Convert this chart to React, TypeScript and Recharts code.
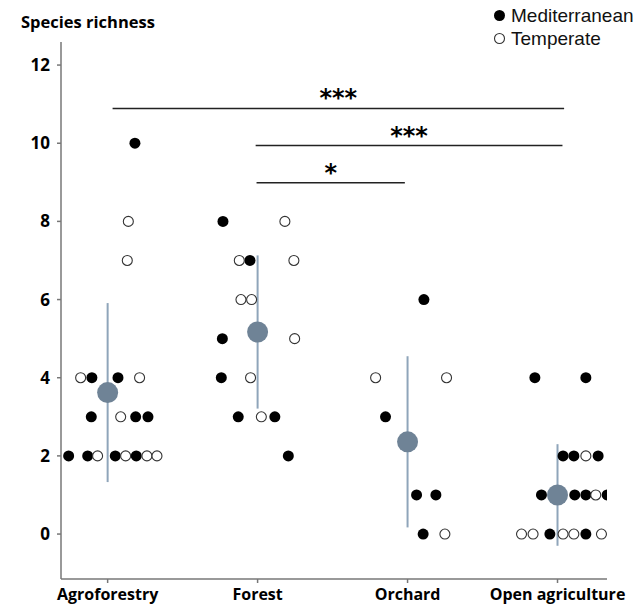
import React from "react";
import {
  ComposedChart,
  Scatter,
  XAxis,
  YAxis,
  ErrorBar,
  ReferenceLine,
  Legend,
} from "recharts";

// land-use categories on the x axis (1..4)
const categories = ["Agroforestry", "Forest", "Orchard", "Open agriculture"];
const yTicks = [0, 2, 4, 6, 8, 10, 12];

// [category, jitter, species richness]
const mediterranean: [number, number, number][] = [
  [1, -0.26, 2], [1, -0.133, 2], [1, 0.051, 2], [1, 0.191, 2],
  [1, -0.109, 3], [1, 0.187, 3], [1, 0.269, 3],
  [1, -0.105, 4], [1, 0.069, 4], [1, 0.182, 10],
  [2, -0.231, 8], [2, -0.051, 7], [2, -0.235, 5], [2, -0.242, 4],
  [2, -0.129, 3], [2, 0.115, 3], [2, 0.205, 2],
  [3, 0.109, 6], [3, -0.147, 3], [3, 0.06, 1], [3, 0.189, 1], [3, 0.104, 0],
  [4, -0.151, 4], [4, 0.189, 4],
  [4, 0.037, 2], [4, 0.109, 2], [4, 0.271, 2],
  [4, -0.107, 1], [4, 0.115, 1], [4, 0.189, 1], [4, 0.331, 1],
  [4, -0.051, 0], [4, 0.189, 0],
];

const temperate: [number, number, number][] = [
  [1, -0.067, 2], [1, 0.12, 2], [1, 0.262, 2], [1, 0.329, 2],
  [1, 0.087, 3], [1, -0.18, 4], [1, 0.213, 4], [1, 0.131, 7], [1, 0.138, 8],
  [2, 0.182, 8], [2, -0.122, 7], [2, 0.242, 7], [2, -0.111, 6], [2, -0.04, 6],
  [2, 0.247, 5], [2, -0.047, 4], [2, 0.025, 3],
  [3, -0.213, 4], [3, 0.26, 4], [3, 0.249, 0],
  [4, 0.189, 2], [4, 0.255, 1],
  [4, -0.24, 0], [4, -0.163, 0], [4, 0.037, 0], [4, 0.109, 0], [4, 0.293, 0],
];

const means = [3.62, 5.17, 2.36, 1.0];
const sds = [2.29, 1.96, 2.19, 1.3];

// pairwise comparisons: from, to, height, stars
const comparisons: [number, number, number, string][] = [
  [1.033, 4.044, 10.89, "***"],
  [1.987, 4.033, 9.94, "***"],
  [1.993, 2.982, 8.99, "*"],
];

const medData = mediterranean.map(([c, j, v]) => ({ x: c + j, y: v }));
const tempData = temperate.map(([c, j, v]) => ({ x: c + j, y: v }));
const meanData = means.map((m, i) => ({ x: i + 1, y: m, sd: sds[i] }));

const boldFont = "'Open Sans', sans-serif";

const FilledDot = (props: any) => (
  <circle cx={props.cx} cy={props.cy} r={5.5} fill="#000" />
);
const OpenDot = (props: any) => (
  <circle cx={props.cx} cy={props.cy} r={5} fill="#fff" stroke="#333" strokeWidth={1.1} />
);
const MeanDot = (props: any) => (
  <circle cx={props.cx} cy={props.cy} r={10.5} fill="#6f8396" />
);

function LegendBox() {
  const rows = [
    { name: "Mediterranean", filled: true },
    { name: "Temperate", filled: false },
  ];
  return (
    <div style={{ fontFamily: "'Liberation Sans', Arial, sans-serif", fontSize: 19, color: "#111" }}>
      {rows.map((r) => (
        <div key={r.name} style={{ display: "flex", alignItems: "center", height: 23 }}>
          <svg width={13} height={13} style={{ marginRight: 5 }}>
            <circle
              cx={6.5}
              cy={6.5}
              r={r.filled ? 5.5 : 5}
              fill={r.filled ? "#000" : "#fff"}
              stroke={r.filled ? "none" : "#333"}
              strokeWidth={1.1}
            />
          </svg>
          <span>{r.name}</span>
        </div>
      ))}
    </div>
  );
}

export default function App() {
  return (
    <div style={{ position: "absolute", left: 0, top: 0, width: 644, height: 605, background: "#fff" }}>
      <ComposedChart
        width={644}
        height={605}
        margin={{ top: 42, right: 37, bottom: 0, left: 0 }}
      >
        <XAxis
          type="number"
          dataKey="x"
          domain={[0.689, 4.33]}
          ticks={[1, 2, 3, 4]}
          tickFormatter={(v) => categories[v - 1]}
          allowDataOverflow
          height={26}
          tickSize={4}
          tickMargin={6}
          stroke="#777"
          strokeWidth={1.5}
          tick={{ fill: "#000", fontFamily: boldFont, fontWeight: 700, fontSize: 16 }}
        />
        <YAxis
          type="number"
          dataKey="y"
          domain={[-1.15, 12.59]}
          ticks={yTicks}
          allowDataOverflow
          width={61}
          tickSize={4}
          tickMargin={7}
          stroke="#777"
          strokeWidth={1.5}
          tick={{ fill: "#000", fontFamily: boldFont, fontWeight: 700, fontSize: 17 }}
          label={{
            content: () => (
              <text x={21} y={28} fontFamily={boldFont} fontWeight={700} fontSize={16.5} fill="#000">
                Species richness
              </text>
            ),
          }}
        />
        {comparisons.map(([a, b, h, stars], i) => (
          <ReferenceLine
            key={i}
            segment={[{ x: a, y: h }, { x: b, y: h }]}
            stroke="#222"
            strokeWidth={1.5}
            ifOverflow="visible"
            label={{
              value: stars,
              position: "top",
              offset: 2,
              fill: "#000",
              fontFamily: "'DejaVu Sans', sans-serif",
              fontWeight: 700,
              fontSize: 24,
            }}
          />
        ))}
        <Scatter
          name="Mediterranean"
          data={medData}
          shape={FilledDot}
          isAnimationActive={false}
        />
        <Scatter
          name="Temperate"
          data={tempData}
          shape={OpenDot}
          isAnimationActive={false}
        />
        <Scatter name="Mean" data={meanData} shape={MeanDot} isAnimationActive={false}>
          <ErrorBar
            dataKey="sd"
            direction="y"
            width={0}
            stroke="#8fa5ba"
            strokeWidth={2}
            isAnimationActive={false}
          />
        </Scatter>
        <Legend
          layout="vertical"
          align="center"
          verticalAlign="middle"
          content={() => <LegendBox />}
          wrapperStyle={{ top: 4, left: 493, width: 151, height: 46 }}
        />
      </ComposedChart>
    </div>
  );
}
